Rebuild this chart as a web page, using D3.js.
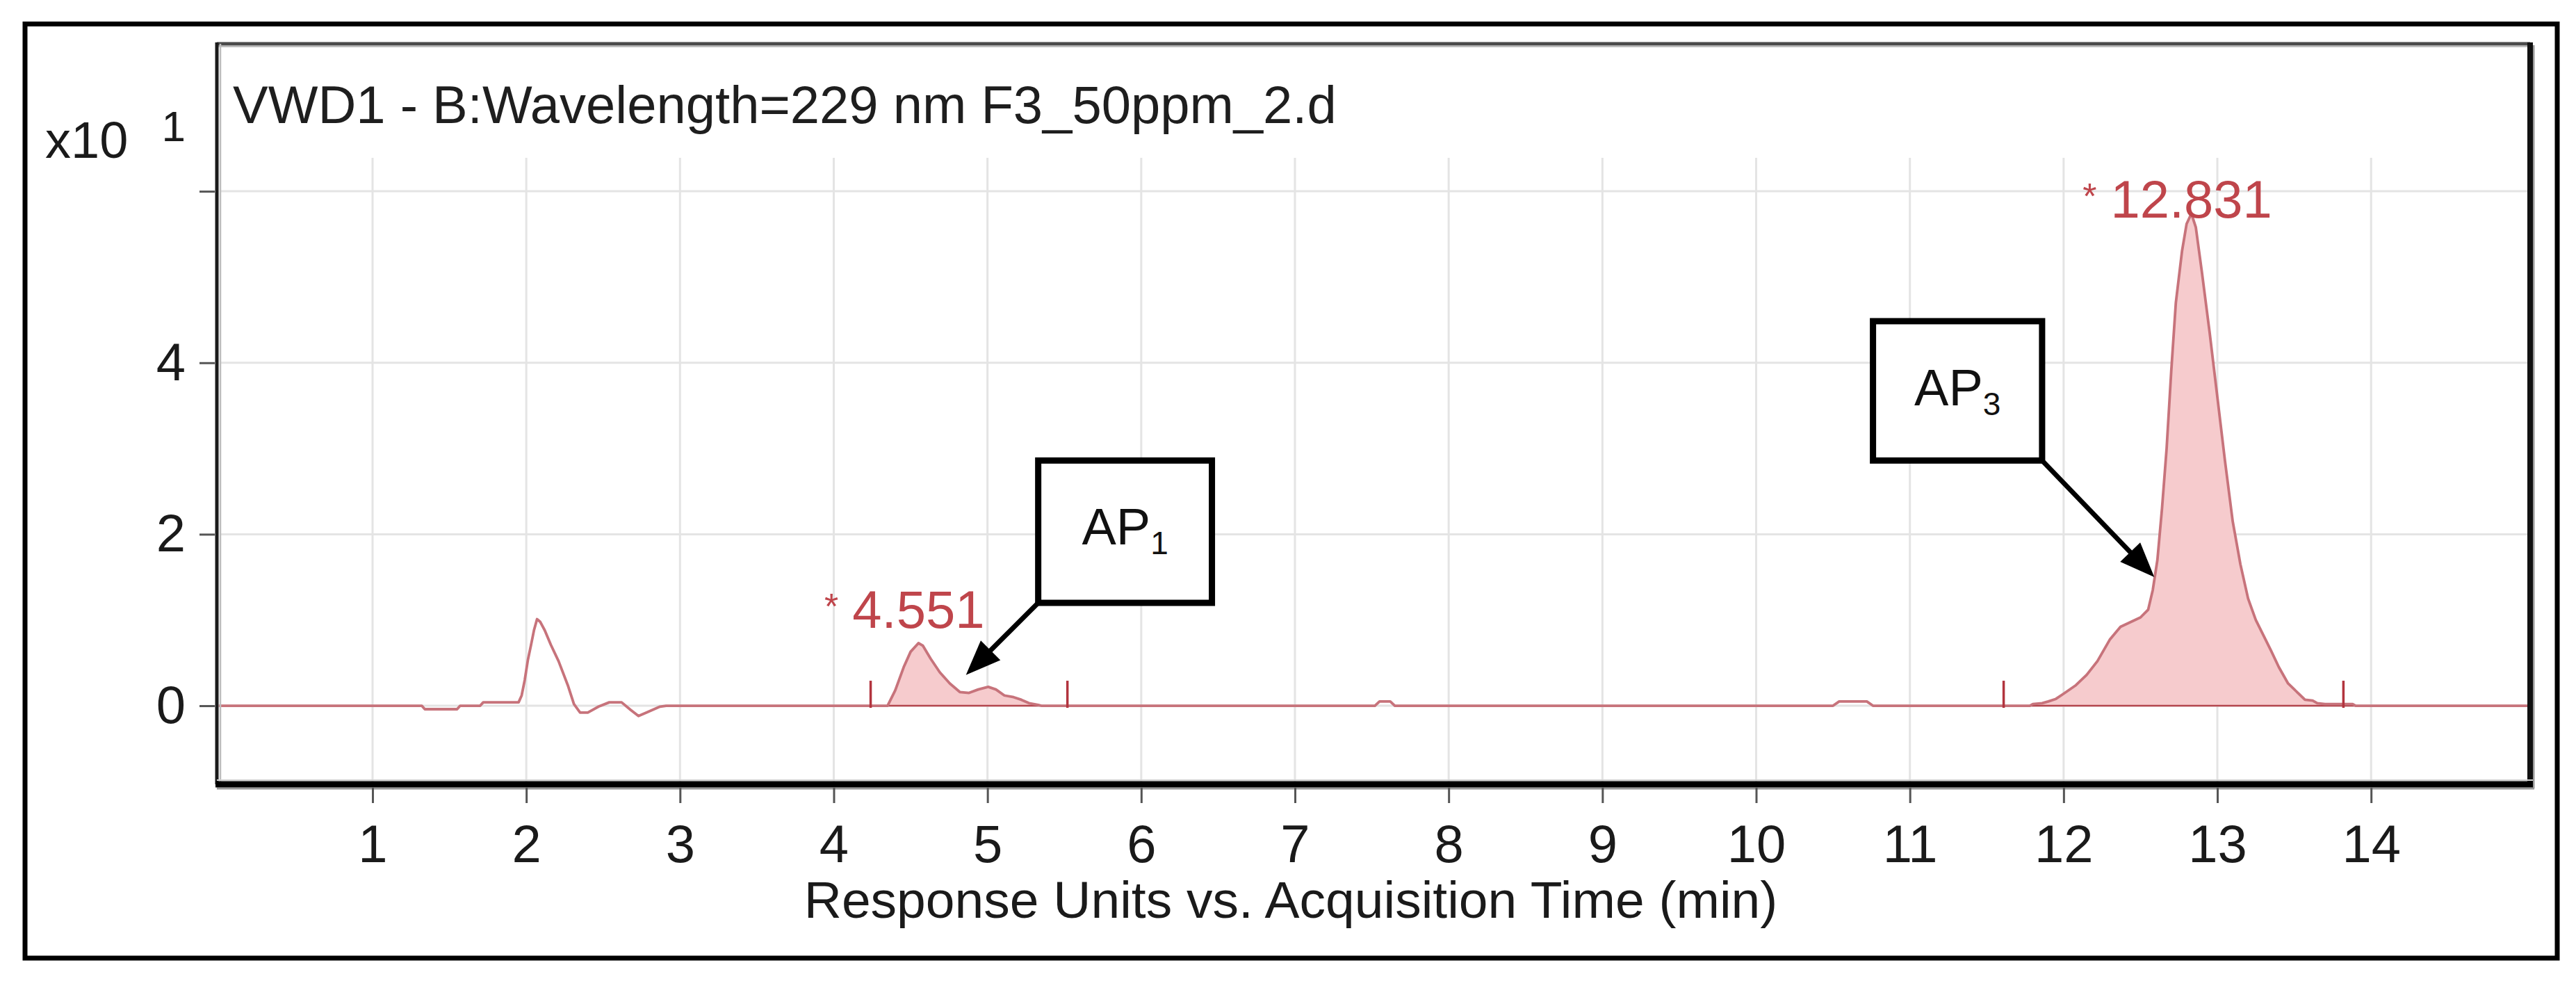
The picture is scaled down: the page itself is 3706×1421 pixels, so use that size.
<!DOCTYPE html>
<html><head><meta charset="utf-8">
<script src="https://cdn.jsdelivr.net/npm/d3@7"></script>
<style>
html,body{margin:0;padding:0;background:#fff;}
svg{display:block;}
text{font-family:"Liberation Sans",Arial,Helvetica,sans-serif;}
</style></head><body>
<svg id="chart" width="3706" height="1421"></svg>
<script>
// ---------- data ----------
const titleText = "VWD1 - B:Wavelength=229 nm F3_50ppm_2.d";
const xAxisTitle = "Response Units vs. Acquisition Time (min)";
const yScaleExp = ["x10", "1"];

const xTicks = [1,2,3,4,5,6,7,8,9,10,11,12,13,14];
const yTicks = [0,2,4,6];
const yTickLabels = ["0","2","4",""];

const traceTime = [0.00,1.32,1.34,1.55,1.57,1.70,1.72,1.95,1.97,1.99,2.01,2.03,2.05,2.07,2.09,2.12,2.16,2.21,2.27,2.31,2.35,2.40,2.47,2.54,2.62,2.68,2.73,2.78,2.87,2.91,
  4.35,4.40,4.455,4.50,4.551,4.58,4.63,4.69,4.755,4.82,4.88,4.94,5.005,5.055,5.11,5.17,5.22,5.27,5.33,5.35,
  7.52,7.55,7.62,7.65,10.50,10.54,10.72,10.76,
  11.78,11.80,11.86,11.90,11.95,12.00,12.08,12.15,12.22,12.30,12.37,12.44,12.50,12.55,12.58,12.61,12.64,12.67,12.70,12.73,12.77,12.80,12.831,12.86,12.90,12.95,13.00,13.05,13.10,13.15,13.20,13.25,13.30,13.35,13.40,13.46,13.53,13.57,13.62,13.65,13.70,13.88,13.90,15.03];
const traceValue = [0,0,-0.04,-0.04,0,0,0.04,0.04,0.12,0.30,0.53,0.70,0.88,1.01,0.98,0.88,0.71,0.52,0.24,0.02,-0.08,-0.08,-0.01,0.04,0.04,-0.05,-0.12,-0.08,-0.01,0,
  0,0.18,0.45,0.63,0.73,0.70,0.55,0.39,0.26,0.16,0.15,0.19,0.22,0.19,0.12,0.10,0.07,0.03,0.01,0,
  0,0.05,0.05,0,0,0.05,0.05,0,
  0,0.02,0.03,0.05,0.08,0.14,0.24,0.36,0.52,0.77,0.92,0.98,1.03,1.12,1.35,1.70,2.30,3.00,3.90,4.70,5.30,5.62,5.74,5.58,5.05,4.35,3.60,2.85,2.15,1.65,1.25,1.00,0.82,0.64,0.45,0.26,0.14,0.07,0.06,0.03,0.02,0.02,0,0];

const peakRT = [4.551, 12.831];
const peakLabels = ["4.551", "12.831"];
const peakLabelValue = [0.91, 5.69];
const peakStart = [4.35, 11.78];
const peakEnd = [5.35, 13.90];
const integrationTicks = [4.24, 5.52, 11.61, 13.82];

const annotMain = ["AP", "AP"];
const annotSub = ["1", "3"];
const annotBoxT0 = [5.33, 10.76];
const annotBoxT1 = [6.46, 11.86];
const annotBoxVTop = [2.86, 4.485];
const annotBoxVBot = [1.20, 2.86];
const annotFromCorner = ["left", "right"];
const annotTipT = [4.86, 12.59];
const annotTipV = [0.36, 1.50];

// ---------- layout ----------
const svg = d3.select("#chart");
const plot = {left:312, right:3640, top:63, bottom:1128};
const x = d3.scaleLinear().domain([0, 15.03]).range([314.8, 3639]);
const y = d3.scaleLinear().domain([-0.92, 7.72]).range([1128.5, 63]);

svg.append("rect").attr("width",3706).attr("height",1421).attr("fill","#fff");

// outer frame
svg.append("rect").attr("x",36).attr("y",34.5).attr("width",3643).attr("height",1343.5)
  .attr("fill","none").attr("stroke","#000").attr("stroke-width",7);

// gridlines
const grid = svg.append("g");
grid.selectAll(".vg").data(xTicks).join("line")
  .attr("x1",d=>x(d)).attr("x2",d=>x(d)).attr("y1",227).attr("y2",plot.bottom-4)
  .attr("stroke","#e4e4e4").attr("stroke-width",3);
grid.selectAll(".hg").data(yTicks).join("line")
  .attr("x1",plot.left+4).attr("x2",plot.right-4).attr("y1",d=>y(d)).attr("y2",d=>y(d))
  .attr("stroke","#e4e4e4").attr("stroke-width",3);

// title
svg.append("text").attr("x",335).attr("y",177).attr("font-size",76).attr("fill","#1e1e1e").text(titleText);

// fills
const pts = traceTime.map((t,i)=>[t, traceValue[i]]);
const area = d3.area().x(d=>x(d[0])).y0(y(0)).y1(d=>y(d[1]));
peakStart.forEach((s,i)=>{
  const sub = pts.filter(p=>p[0]>=s-1e-9 && p[0]<=peakEnd[i]+1e-9);
  svg.append("path").datum(sub).attr("d",area).attr("fill","#f6cbcd").attr("stroke","none");
  svg.append("line").attr("x1",x(s)).attr("x2",x(peakEnd[i])).attr("y1",y(0)).attr("y2",y(0))
    .attr("stroke","#b4464e").attr("stroke-width",2.5);
});

// trace
const line = d3.line().x(d=>x(d[0])).y(d=>y(d[1]));
svg.append("path").datum(pts).attr("d",line).attr("fill","none")
  .attr("stroke","#c7737b").attr("stroke-width",3.8).attr("stroke-linejoin","round");

// integration ticks
svg.selectAll(".it").data(integrationTicks).join("line")
  .attr("x1",d=>x(d)).attr("x2",d=>x(d)).attr("y1",y(0)+3).attr("y2",y(0)-36)
  .attr("stroke","#b2343e").attr("stroke-width",3.5);

// peak labels
peakRT.forEach((rt,i)=>{
  const t = svg.append("text").attr("x",x(rt)).attr("y",y(peakLabelValue[i]))
    .attr("text-anchor","middle").attr("font-size",76).attr("fill","#bf454b").text(peakLabels[i]);
  const w = t.node().getComputedTextLength();
  svg.append("text").attr("x",x(rt)-w/2-20).attr("y",y(peakLabelValue[i])-13)
    .attr("text-anchor","end").attr("font-size",52).attr("fill","#bf454b").text("*");
});

// plot frame
const fr = svg.append("g");
fr.append("line").attr("x1",plot.left).attr("x2",plot.right).attr("y1",plot.top+4).attr("y2",plot.top+4).attr("stroke","#bdbdbd").attr("stroke-width",2);
fr.append("line").attr("x1",plot.left).attr("x2",plot.right).attr("y1",plot.top).attr("y2",plot.top).attr("stroke","#4a4a4a").attr("stroke-width",5);
fr.append("line").attr("x1",plot.left+5).attr("x2",plot.left+5).attr("y1",plot.top).attr("y2",plot.bottom).attr("stroke","#bdbdbd").attr("stroke-width",2.5);
fr.append("line").attr("x1",plot.left).attr("x2",plot.left).attr("y1",plot.top-2).attr("y2",plot.bottom).attr("stroke","#1a1a1a").attr("stroke-width",5);
fr.append("line").attr("x1",plot.right+5).attr("x2",plot.right+5).attr("y1",plot.top+2).attr("y2",plot.bottom+6).attr("stroke","#9a9a9a").attr("stroke-width",3);
fr.append("line").attr("x1",plot.right).attr("x2",plot.right).attr("y1",plot.top-2).attr("y2",plot.bottom).attr("stroke","#111").attr("stroke-width",8);
fr.append("line").attr("x1",plot.left).attr("x2",plot.right+4).attr("y1",plot.bottom-6).attr("y2",plot.bottom-6).attr("stroke","#cfcfcf").attr("stroke-width",2);
fr.append("line").attr("x1",plot.left).attr("x2",plot.right+6).attr("y1",plot.bottom+6).attr("y2",plot.bottom+6).attr("stroke","#9a9a9a").attr("stroke-width",3);
fr.append("line").attr("x1",plot.left-2).attr("x2",plot.right+4).attr("y1",plot.bottom).attr("y2",plot.bottom).attr("stroke","#000").attr("stroke-width",9);

// axes
const xAxis = d3.axisBottom(x).tickValues(xTicks).tickSize(22).tickPadding(31).tickFormat(d3.format("d"));
const gx = svg.append("g").attr("transform",`translate(0,${plot.bottom+5})`).call(xAxis);
gx.select(".domain").remove();
gx.selectAll(".tick line").attr("stroke","#555").attr("stroke-width",3);
gx.selectAll(".tick text").attr("font-size",76).attr("fill","#1a1a1a").attr("font-family",null);

const yAxis = d3.axisLeft(y).tickValues(yTicks).tickSize(22).tickPadding(20).tickFormat((d,i)=>yTickLabels[i]);
const gy = svg.append("g").attr("transform",`translate(${plot.left-3},0)`).call(yAxis);
gy.select(".domain").remove();
gy.selectAll(".tick line").attr("stroke","#555").attr("stroke-width",3);
gy.selectAll(".tick text").attr("font-size",76).attr("fill","#1a1a1a").attr("font-family",null);

// exponent label
svg.append("text").attr("x",65).attr("y",227).attr("font-size",74).attr("fill","#1a1a1a").text(yScaleExp[0]);
svg.append("text").attr("x",267).attr("y",203).attr("text-anchor","end").attr("font-size",62).attr("fill","#1a1a1a").text(yScaleExp[1]);

// x axis title
svg.append("text").attr("x",1857).attr("y",1320).attr("text-anchor","middle").attr("font-size",75).attr("fill","#1a1a1a").text(xAxisTitle);

// annotations
function arrow(g,x1,y1,x2,y2){
  const L=50,W=20;
  const dx=x2-x1, dy=y2-y1, len=Math.hypot(dx,dy), ux=dx/len, uy=dy/len;
  const bx=x2-ux*L, by=y2-uy*L;
  g.append("line").attr("x1",x1).attr("y1",y1).attr("x2",bx+ux*4).attr("y2",by+uy*4)
    .attr("stroke","#000").attr("stroke-width",7);
  g.append("polygon").attr("points",`${x2},${y2} ${bx-uy*W},${by+ux*W} ${bx+uy*W},${by-ux*W}`).attr("fill","#000");
}
annotMain.forEach((m,i)=>{
  const g = svg.append("g");
  const bx0=x(annotBoxT0[i]), bx1=x(annotBoxT1[i]), byT=y(annotBoxVTop[i]), byB=y(annotBoxVBot[i]);
  const cx = annotFromCorner[i]==="left" ? bx0 : bx1;
  arrow(g, cx, byB, x(annotTipT[i]), y(annotTipV[i]));
  g.append("rect").attr("x",bx0).attr("y",byT).attr("width",bx1-bx0).attr("height",byB-byT)
    .attr("fill","#fff").attr("stroke","#000").attr("stroke-width",9);
  const t = g.append("text").attr("x",(bx0+bx1)/2).attr("y",byT+121).attr("text-anchor","middle").attr("fill","#111");
  t.append("tspan").attr("font-size",74).text(m);
  t.append("tspan").attr("font-size",46).attr("dy",14).text(annotSub[i]);
});
</script>
</body></html>
